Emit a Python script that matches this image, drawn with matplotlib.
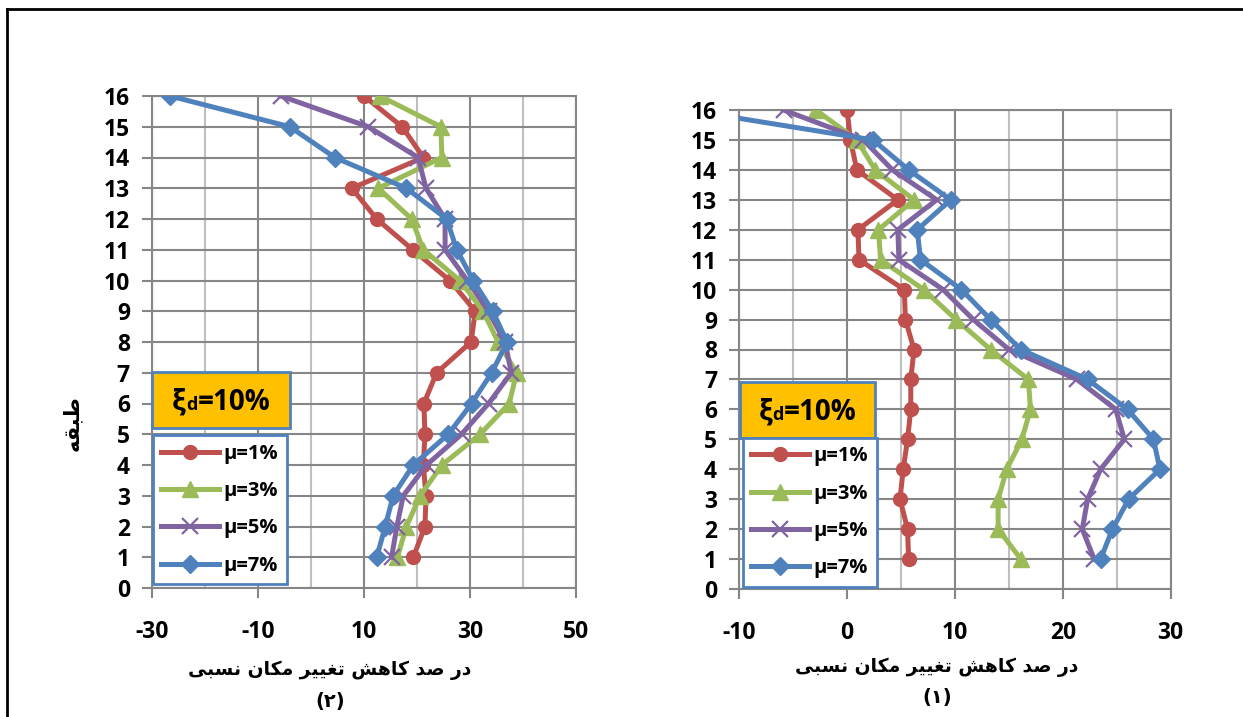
import matplotlib
matplotlib.use("Agg")
import matplotlib.pyplot as plt
from matplotlib.lines import Line2D
from matplotlib.patches import Rectangle
from matplotlib.offsetbox import TextArea, HPacker, AnchoredOffsetbox
from matplotlib.ticker import MultipleLocator

plt.rcParams['font.family'] = ['Open Sans', 'DejaVu Sans']
plt.rcParams['font.weight'] = 'bold'
plt.rcParams['axes.unicode_minus'] = False

floors = list(range(1, 17))
labels = ["μ=1%", "μ=3%", "μ=5%", "μ=7%"]

# Chart (2) - left
left_mu1 = [19.3, 21.5, 21.7, 21.2, 21.5, 21.3, 23.7, 30.2, 31.0, 26.2, 19.2, 12.4, 7.7, 21.2, 17.2, 10.0]
left_mu3 = [16.3, 18.0, 20.6, 24.7, 31.9, 37.4, 38.8, 35.3, 32.5, 28.1, 21.2, 19.0, 12.7, 24.7, 24.5, 13.0]
left_mu5 = [15.2, 16.2, 17.4, 21.8, 28.4, 33.5, 37.8, 36.6, 33.5, 29.5, 25.3, 25.3, 21.7, 20.2, 10.8, -5.7]
left_mu7 = [12.4, 14.0, 15.5, 19.3, 25.9, 30.3, 34.1, 37.0, 34.3, 30.6, 27.5, 25.6, 18.0, 4.5, -4.0, -26.6]

# Chart (1) - right
right_mu1 = [5.7, 5.6, 4.9, 5.2, 5.6, 5.9, 5.9, 6.2, 5.4, 5.3, 1.1, 1.0, 4.7, 0.9, 0.3, 0.0]
right_mu3 = [16.1, 14.0, 14.0, 14.8, 16.2, 17.0, 16.8, 13.3, 10.1, 7.1, 3.1, 2.9, 6.2, 2.6, 0.9, -2.9]
right_mu5 = [22.9, 21.8, 22.3, 23.5, 25.7, 24.9, 21.3, 15.0, 11.7, 8.9, 4.8, 4.7, 8.3, 4.2, 1.5, -5.9]
right_mu7 = [23.5, 24.6, 26.1, 29.0, 28.4, 26.0, 22.3, 16.1, 13.3, 10.6, 6.8, 6.5, 9.6, 5.7, 2.4, -14.8]

left_xticks = [-30, -10, 10, 30, 50]
right_xticks = [-10, 0, 10, 20, 30]
yticks = list(range(0, 17))

# Persian texts (presentation forms, visual order)
xlabel_fa = "\uFEF0\uFE92\uFEB4\uFEE7 \uFEE5\uFE8E\uFB91\uFEE3 \uFEAE\uFEF4\uFEF4\uFED0\uFE97 \uFEB6\uFEEB\uFE8E\uFB90 \uFEAA\uFEBB \uFEAD\uFEA9"
ylabel_fa = "\uFEEA\uFED8\uFE92\uFEC3"
title_left = "(\u06F2)"
title_right = "(\u06F1)"

colors = ['#C0504D', '#9BBB59', '#8064A2', '#4F81BD']
markers = ['o', '^', 'x', 'D']
msizes = [10, 11, 12, 9.5]

W, H = 1243, 717
fig = plt.figure(figsize=(W / 100, H / 100), dpi=100)


def px_rect(x0, y0, x1, y1):
    return [x0 / W, 1 - y1 / H, (x1 - x0) / W, (y1 - y0) / H]


def style_axes(ax, xlim, xticks, minor):
    ax.set_xlim(*xlim)
    ax.set_ylim(0, 16)
    ax.set_xticks(xticks)
    ax.xaxis.set_minor_locator(MultipleLocator(minor))
    ax.set_yticks(yticks)
    ax.grid(True, which='major', color='#868686', lw=1.5, zorder=0)
    ax.grid(True, which='minor', axis='x', color='#BFBFBF', lw=1.5, zorder=0)
    ax.tick_params(axis='x', which='minor', length=0)
    ax.tick_params(axis='both', which='major', direction='out', length=7,
                   width=1.5, color='#868686', labelsize=16.5)
    ax.tick_params(axis='x', which='major', pad=16)
    ax.tick_params(axis='y', which='major', pad=9)
    for s in ax.spines.values():
        s.set_color('#868686')
        s.set_linewidth(1.5)
    ax.set_axisbelow(True)
    for lab in ax.get_xticklabels() + ax.get_yticklabels():
        lab.set_fontweight('bold')


def draw_series(ax, series):
    handles = []
    for vals, c, m, ms, lab in zip(series, colors, markers, msizes, labels):
        kw = dict(color=c, lw=3.6, marker=m, ms=ms, label=lab, zorder=3)
        if m == 'x':
            kw.update(mew=1.6)
        else:
            kw.update(mec=c, mfc=c)
        h, = ax.plot(vals, floors, **kw)
        handles.append(h)
    return handles


def add_boxes(ax, xi_box, leg_anchor):
    x0, y0, x1, y1 = xi_box
    ax.add_patch(Rectangle((x0, y0), x1 - x0, y1 - y0, transform=ax.transAxes,
                           facecolor='#FFC000', edgecolor='#4F81BD', lw=2,
                           zorder=5, clip_on=False))
    tp = dict(size=20, weight='bold', color='black', family=['Open Sans', 'DejaVu Sans'])
    tps = dict(size=13, weight='bold', color='black', family=['Open Sans', 'DejaVu Sans'])
    pack = HPacker(children=[TextArea("ξ", textprops=tp),
                             TextArea("d", textprops=tps),
                             TextArea("=10%", textprops=tp)],
                   align="baseline", pad=0, sep=0)
    ab = AnchoredOffsetbox(loc='center', child=pack, frameon=False, pad=0,
                           borderpad=0,
                           bbox_to_anchor=((x0 + x1) / 2, (y0 + y1) / 2 - 0.005),
                           bbox_transform=ax.transAxes)
    ab.set_zorder(6)
    ax.add_artist(ab)
    leg = ax.legend(loc='lower left', bbox_to_anchor=leg_anchor,
                    bbox_transform=ax.transAxes, borderaxespad=0,
                    fancybox=False, framealpha=1, edgecolor='#4F81BD',
                    prop=dict(size=14.5, weight='bold'), handlelength=2.85,
                    handletextpad=0.25, labelspacing=0.86, borderpad=0.42)
    leg.get_frame().set_linewidth(2)
    leg.set_zorder(6)


# Left chart (2)
axL = fig.add_axes(px_rect(152, 96, 576, 588))
draw_series(axL, [left_mu1, left_mu3, left_mu5, left_mu7])
style_axes(axL, (-30, 50), left_xticks, 10)
add_boxes(axL, (0.0, 0.3246, 0.326, 0.4396), (0.002, 0.008))

# Right chart (1)
axR = fig.add_axes(px_rect(739.3, 110, 1170.7, 589))
draw_series(axR, [right_mu1, right_mu3, right_mu5, right_mu7])
style_axes(axR, (-10, 30), right_xticks, 5)
add_boxes(axR, (0.0016, 0.3146, 0.3146, 0.4328), (0.0079, 0.0048))

# Persian labels
fa = dict(family='DejaVu Sans', weight='bold', ha='center', va='center')
fig.text(330 / W, 1 - 670 / H, xlabel_fa, size=13.5, **fa)
fig.text(330 / W, 1 - 702 / H, title_left, size=14, **fa)
fig.text(937 / W, 1 - 667 / H, xlabel_fa, size=13.5, **fa)
fig.text(937 / W, 1 - 697 / H, title_right, size=14, **fa)
fig.text(72 / W, 1 - 423 / H, ylabel_fa, size=15, rotation=90, **fa)

# Figure frame (top and left edges)
fig.add_artist(Line2D([7 / W, 1], [1 - 9 / H, 1 - 9 / H], transform=fig.transFigure,
                      color='black', lw=2))
fig.add_artist(Line2D([7 / W, 7 / W], [0, 1 - 9 / H], transform=fig.transFigure,
                      color='black', lw=2))

fig.savefig("out.png", dpi=100)
